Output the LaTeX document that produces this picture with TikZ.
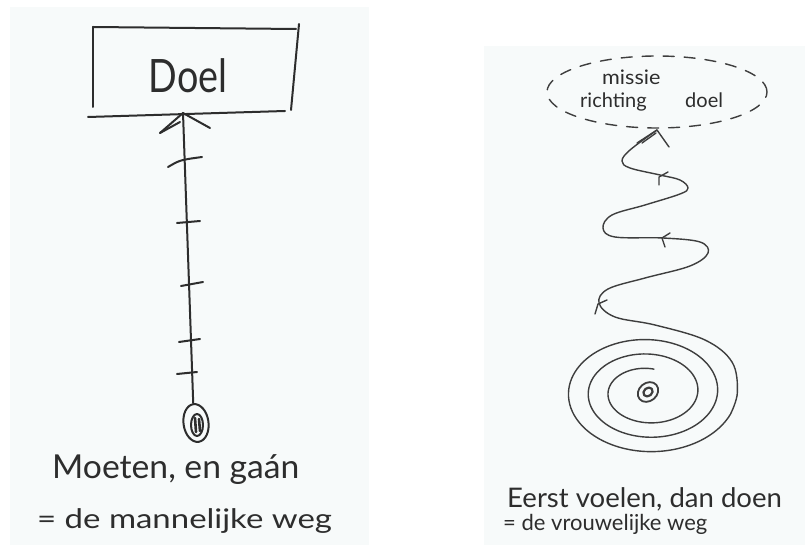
\documentclass[tikz,border=0pt]{standalone}
\usepackage{fontspec}
\setmainfont{Lato}
\usepackage{graphicx}
\usetikzlibrary{shapes.geometric}
\definecolor{ink}{RGB}{45,45,45}
\definecolor{inkr}{RGB}{62,62,62}
\definecolor{card}{RGB}{247,250,250}
\begin{document}
\begin{tikzpicture}[x=1pt,y=-1pt, line cap=round, line join=round,
  pen/.style={draw=ink, line width=2pt},
  penr/.style={draw=inkr, line width=1.4pt},
  txt/.style={text=ink, inner sep=0pt, anchor=base west}]
\useasboundingbox (0,0) rectangle (805,545);
\fill[white] (0,0) rectangle (805,545);
\fill[card] (10,7) rectangle (369,545);
\fill[card] (484,46) rectangle (805,545);

% ---------- left: de mannelijke weg ----------
\draw[pen] (93,27) -- (93,107);
\draw[pen] (93,27) -- (296,29);
\draw[pen] (299,24) -- (291,110);
\draw[pen] (88,117) -- (285,111);
\node[txt, anchor=center] (doel) at (188,76) {\fontsize{46}{46}\selectfont\scalebox{0.82}[1]{Doel}};

\coordinate (goal) at (183,113);
\node[pen, ellipse, minimum width=25pt, minimum height=38pt, inner sep=0pt, rotate=8] (start) at (196,423) {};
\draw[pen] (197,425) ellipse [x radius=6, y radius=11];
\draw[pen, line width=2.6pt] (195,418) -- (196,432) (199,419) -- (200,431);
\draw[pen] (start.north) -- (goal);
\draw[pen] (160,133) -- (goal) -- (210,128);
\draw[pen] (160,133) -- (180,122);
% ticks
\draw[pen] (168,167) .. controls (180,160) .. (202,157);
\draw[pen] (177,223) -- (200,221);
\draw[pen] (181,286) -- (203,282);
\draw[pen] (179,342) -- (200,339);
\draw[pen] (177,374) -- (197,372);

\node[txt] (t1) at (52,478) {\fontsize{33}{33}\selectfont\scalebox{1.02}[1]{Moeten, en gaán}};
\node[txt] (t2) at (37,528) {\fontsize{27}{27}\selectfont\scalebox{1.22}[1]{= de mannelijke weg}};

% ---------- right: de vrouwelijke weg ----------
\node[penr, ellipse, dash pattern=on 11pt off 10pt, minimum width=220pt, minimum height=72pt] (cloud) at (657,92) {};
\node[txt] (m1) at (602,85) {\fontsize{20}{20}\selectfont\scalebox{1.08}[1]{missie}};
\node[txt] (m2) at (580,108) {\fontsize{20}{20}\selectfont richting};
\node[txt] (m3) at (685,108) {\fontsize{20}{20}\selectfont doel};

\coordinate (center) at (648,392);
\draw[penr] plot[domain=80:1060, samples=260, smooth]
  ({648 + (30+0.055*\x)*cos(\x)}, {392 - (20+0.04*\x)*sin(\x)});
\coordinate (tip) at (cloud.south);
\draw[penr] plot[smooth, tension=0.6] coordinates {
  (731,413) (737.4,392) (732,362) (705,340) (655,325) (615,317) (599,303)
  (608,289) (645,278) (690,266) (708,253) (700,242) (663,238) (615,237)
  (603,228) (612,215) (645,205) (680,194) (688,188) (680,180) (660,175)
  (630,168) (622,161) (630,150) (657,130)};
\draw[penr] (637,143) -- (657,130) -- (669,147);
\draw[penr] (642,143) -- (656,133);
% direction marks
\draw[penr] (598,304) -- (607,300) (598,304) -- (595,314);
\draw[penr] (662,238) -- (670,233) (662,238) -- (665,247);
\draw[penr] (659,177) -- (668,172) (659,177) -- (659,185);
% centre
\draw[penr, line width=1.8pt] (center) ellipse [x radius=11, y radius=9, rotate=40];
\draw[penr, line width=2.2pt] (center) ellipse [x radius=5, y radius=4, rotate=40];

\node[txt] (t3) at (507,507) {\fontsize{27}{27}\selectfont\scalebox{1.02}[1]{Eerst voelen, dan doen}};
\node[txt] (t4) at (503,530) {\fontsize{22}{22}\selectfont = de vrouwelijke weg};
\end{tikzpicture}
\end{document}
